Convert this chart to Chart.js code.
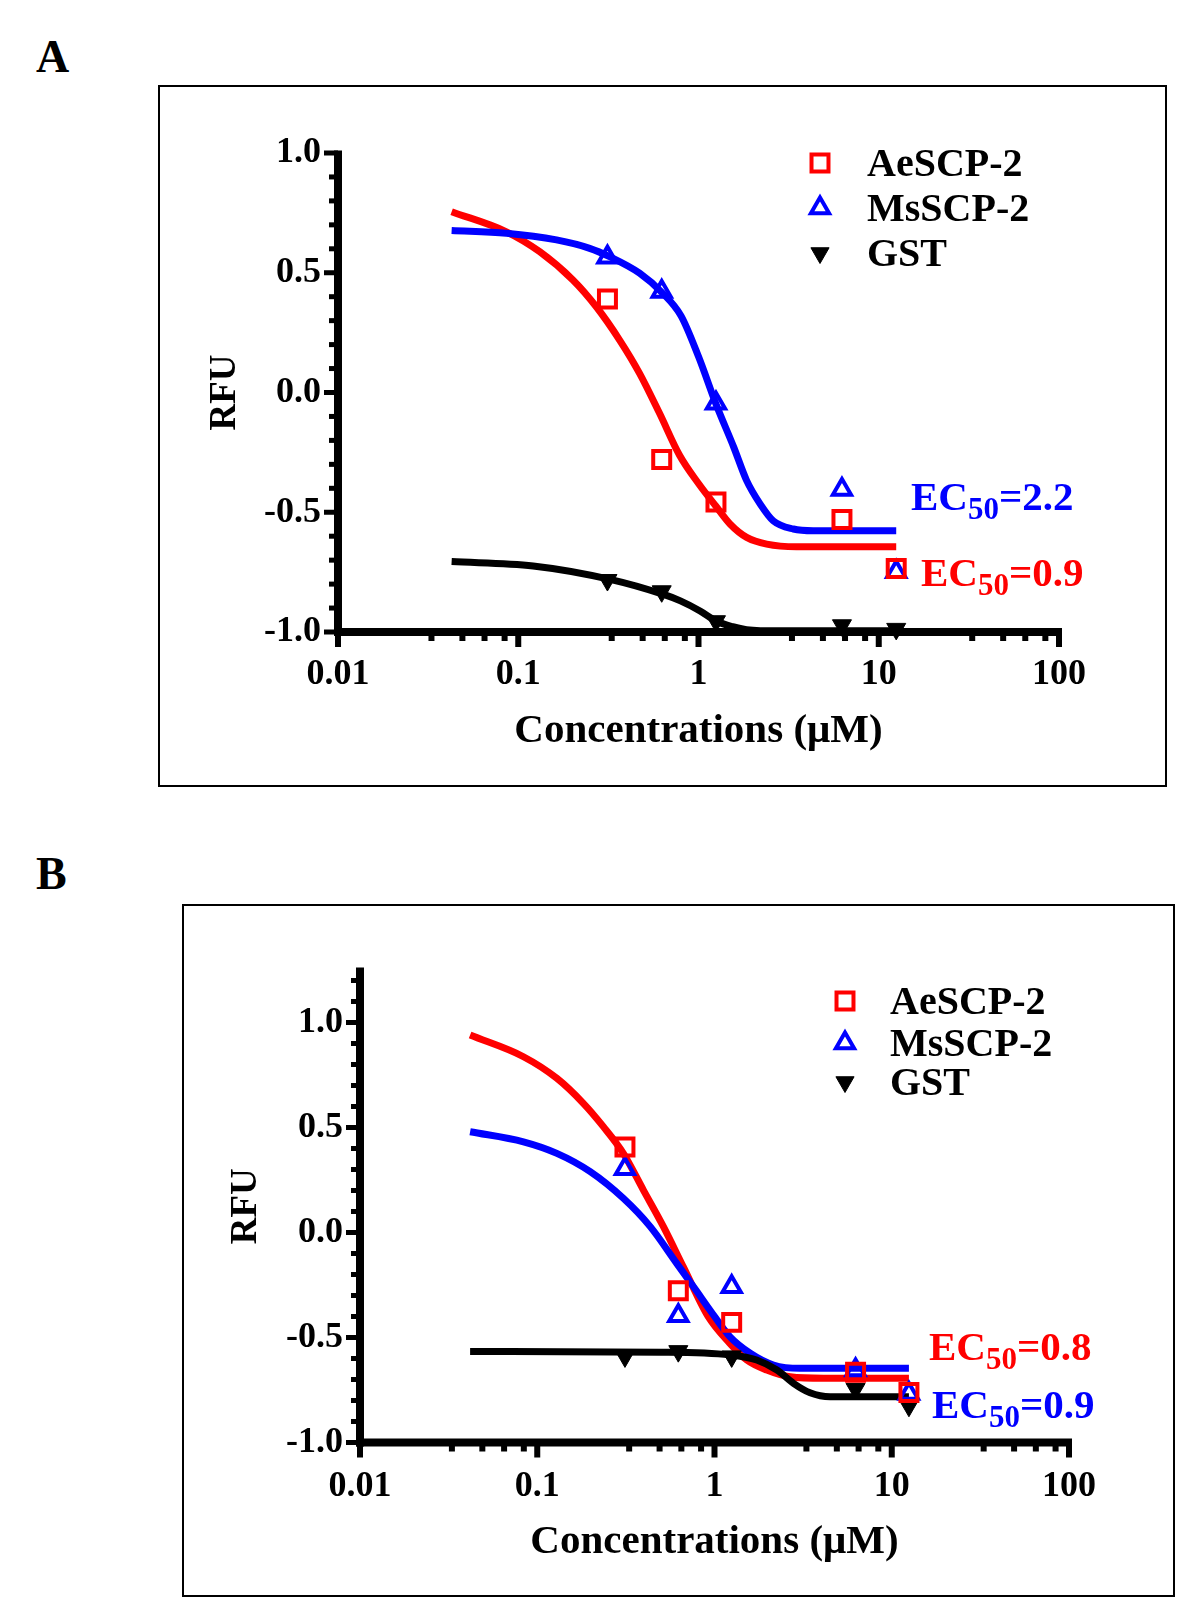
<!DOCTYPE html>
<html>
<head>
<meta charset="utf-8">
<script src="https://cdn.jsdelivr.net/npm/chart.js"></script>
<style>
  body { margin: 0; background: #fff; width: 1200px; height: 1618px; position: relative; overflow: hidden; font-family: "Liberation Serif", "Times New Roman", serif; }
  .cadre { position: absolute; border: 2px solid #000; box-sizing: border-box; }
  canvas { position: absolute; }
  .lettre { position: absolute; font-weight: bold; font-size: 46px; line-height: 1; }
</style>
</head>
<body>
<div class="lettre" style="left:36px;top:34px">A</div>
<div class="lettre" style="left:36px;top:851px">B</div>
<div class="cadre" style="left:158px;top:85px;width:1009px;height:702px"></div>
<div class="cadre" style="left:182px;top:904px;width:993px;height:693px"></div>
<canvas id="graphA" width="1009" height="702" style="left:158px;top:85px"></canvas>
<canvas id="graphB" width="993" height="693" style="left:182px;top:904px"></canvas>
<script>
/* Données */
var concentrations = [0.3125, 0.625, 1.25, 6.25, 12.5];
var noms = ['AeSCP-2', 'MsSCP-2', 'GST'];

var xTickValues = [0.01, 0.1, 1, 10, 100];
var xTickLabels = ['0.01', '0.1', '1', '10', '100'];
var xMinorFactors = [3.3, 4.9, 6.5, 8.4];
var yTickValues = [-1, -0.5, 0, 0.5, 1];
var yTickLabels = ['-1.0', '-0.5', '0.0', '0.5', '1.0'];
var yMinorA = [-0.9, -0.8, -0.7, -0.6, -0.4, -0.3, -0.2, -0.1, 0.1, 0.2, 0.3, 0.4, 0.6, 0.7, 0.8, 0.9];
var yMinorB = [-0.9, -0.8, -0.7, -0.6, -0.4, -0.3, -0.2, -0.1, 0.1, 0.2, 0.3, 0.4, 0.6, 0.7, 0.8, 0.9, 1.1, 1.2];

// Panneau A : mesures
var aeA = [0.39, -0.28, -0.457, -0.53, -0.735];
var msA = [0.565, 0.422, -0.045, -0.405, -0.748];
var gstA = [-0.783, -0.83, -0.955, -0.972, -0.987];
var ec50A = ['0.9', '2.2'];

// Panneau A : courbes ajustées
var aeAxCourbe = [0.0427, 0.086, 0.1315, 0.201, 0.271, 0.365, 0.471, 0.608, 0.785, 1.0, 1.25, 1.5, 1.85, 2.39, 3.5, 12.5];
var aeAyCourbe = [0.755, 0.671, 0.588, 0.47, 0.358, 0.219, 0.08, -0.087, -0.262, -0.38, -0.475, -0.55, -0.605, -0.633, -0.644, -0.644];
var msAxCourbe = [0.0427, 0.086, 0.163, 0.249, 0.321, 0.471, 0.634, 0.8, 1.0, 1.25, 1.57, 1.85, 2.2, 2.6, 3.36, 4.33, 12.5];
var msAyCourbe = [0.676, 0.665, 0.637, 0.602, 0.567, 0.498, 0.414, 0.32, 0.15, -0.048, -0.229, -0.368, -0.466, -0.536, -0.57, -0.577, -0.577];
var gstAxCourbe = [0.0427, 0.121, 0.323, 0.64, 0.794, 1.02, 1.25, 1.55, 1.85, 2.8, 12.5];
var gstAyCourbe = [-0.706, -0.724, -0.78, -0.843, -0.87, -0.912, -0.954, -0.978, -0.99, -0.995, -0.995];

// Panneau B : mesures
var aeB = [0.407, -0.277, -0.428, -0.665, -0.762];
var msB = [0.303, -0.396, -0.258, -0.655, -0.767];
var gstB = [-0.59, -0.565, -0.59, -0.745, -0.825];
var ec50B = ['0.8', '0.9'];

// Panneau B : courbes ajustées
var aeBxCourbe = [0.0418, 0.0836, 0.129, 0.182, 0.236, 0.306, 0.397, 0.515, 0.668, 0.92, 1.22, 1.52, 1.97, 2.67, 4.12, 12.5];
var aeByCourbe = [0.94, 0.837, 0.734, 0.615, 0.504, 0.377, 0.202, 0.028, -0.165, -0.4, -0.528, -0.607, -0.655, -0.687, -0.694, -0.694];
var msBxCourbe = [0.0418, 0.0836, 0.129, 0.199, 0.306, 0.434, 0.612, 0.794, 0.944, 1.22, 1.59, 2.15, 3.04, 12.5];
var msByCourbe = [0.48, 0.432, 0.377, 0.29, 0.163, 0.028, -0.147, -0.28, -0.37, -0.496, -0.575, -0.631, -0.647, -0.647];
var gstBxCourbe = [0.0418, 0.5, 1.22, 1.73, 2.25, 2.79, 3.46, 4.49, 12.5];
var gstByCourbe = [-0.567, -0.57, -0.583, -0.607, -0.655, -0.718, -0.763, -0.782, -0.782];

var ROUGE = '#ff0000';
var BLEU = '#0000ff';
var NOIR = '#000000';
var POLICE = '"Liberation Serif", "Times New Roman", serif';

function points(xs, ys) {
    return xs.map(function (x, i) { return { x: x, y: ys[i] }; });
}

/* Dessin d'un symbole (carré, triangle) comme Chart.js */
function dessinerSymbole(ctx, style, r, rotation, x, y, fond, trait, epaisseur) {
    ctx.save();
    ctx.fillStyle = fond;
    ctx.strokeStyle = trait;
    ctx.lineWidth = epaisseur;
    ctx.beginPath();
    if (style === 'rect') {
        var s = r * Math.SQRT1_2;
        ctx.rect(x - s, y - s, 2 * s, 2 * s);
    } else {
        var rad = rotation * Math.PI / 180;
        ctx.moveTo(x + Math.sin(rad) * r, y - Math.cos(rad) * r);
        rad += 2 * Math.PI / 3;
        ctx.lineTo(x + Math.sin(rad) * r, y - Math.cos(rad) * r);
        rad += 2 * Math.PI / 3;
        ctx.lineTo(x + Math.sin(rad) * r, y - Math.cos(rad) * r);
        ctx.closePath();
    }
    ctx.fill();
    if (epaisseur > 0) ctx.stroke();
    ctx.restore();
}

/* Plugin : axes façon Prism, légende et étiquettes EC50 */
var decorPrism = {
    id: 'decorPrism',
    beforeDatasetsDraw: function (chart, args, opts) {
        var ctx = chart.ctx;
        var sx = chart.scales.x, sy = chart.scales.y;
        var gauche = sx.left, droite = sx.right, bas = sy.bottom, haut = sy.top;
        var ep = 8;
        ctx.save();
        ctx.fillStyle = NOIR;
        // lignes des axes
        ctx.fillRect(gauche - ep / 2, haut - 2.5, ep, bas - haut + ep / 2 + 2.5);
        ctx.fillRect(gauche - ep / 2, bas - ep / 2, droite - gauche + ep / 2 + 3, ep);
        // graduations Y
        yTickValues.forEach(function (v) {
            var py = sy.getPixelForValue(v);
            ctx.fillRect(gauche - ep / 2 - 10, py - 2.5, 10 + ep / 2, 5);
        });
        opts.yMinor.forEach(function (v) {
            var py = sy.getPixelForValue(v);
            ctx.fillRect(gauche - ep / 2 - 5, py - 2.5, 5 + ep / 2, 5);
        });
        // graduations X (log)
        xTickValues.forEach(function (v, i) {
            var px = sx.getPixelForValue(v);
            ctx.fillRect(px - 3, bas, 6, ep / 2 + 11);
            if (i < xTickValues.length - 1) {
                xMinorFactors.forEach(function (f) {
                    var pm = sx.getPixelForValue(v * f);
                    ctx.fillRect(pm - 3, bas, 6, ep / 2 + 5);
                });
            }
        });
        ctx.restore();
    },
    afterDraw: function (chart, args, opts) {
        var ctx = chart.ctx;
        ctx.save();
        // légende
        var leg = opts.legende;
        for (var i = 0; i < 3; i++) {
            var ds = chart.data.datasets[i];
            var r = ds.legendRadius || ds.pointRadius;
            dessinerSymbole(ctx, ds.pointStyle, r, ds.pointRotation || 0, leg.x, leg.y[i], ds.backgroundColor, ds.borderColor, ds.pointBorderWidth);
            ctx.fillStyle = NOIR;
            ctx.font = 'bold 40px ' + POLICE;
            ctx.textBaseline = 'alphabetic';
            ctx.fillText(ds.label, leg.tx, leg.y[i] + 13);
        }
        // étiquettes EC50
        opts.ec50.forEach(function (e) {
            var x = e.x;
            ctx.fillStyle = e.couleur;
            ctx.font = 'bold 41px ' + POLICE;
            ctx.fillText('EC', x, e.y);
            x += ctx.measureText('EC').width;
            ctx.font = 'bold 31px ' + POLICE;
            ctx.fillText('50', x, e.y + 9);
            x += ctx.measureText('50').width;
            ctx.font = 'bold 41px ' + POLICE;
            ctx.fillText('=' + e.valeur, x, e.y);
        });
        ctx.restore();
    }
};

/* Fonction pour créer un panneau dose-réponse */
function graphiqueDoseReponse(Id, cfg) {
    var ctx = document.getElementById(Id).getContext('2d');

    var datasets = [{
        label: noms[0],
        data: points(concentrations, cfg.ae),
        pointStyle: 'rect', pointRadius: 12, pointBorderWidth: 4,
        borderColor: ROUGE, backgroundColor: 'rgba(0,0,0,0)', showLine: false, clip: false
    }, {
        label: noms[1],
        data: points(concentrations, cfg.ms),
        pointStyle: 'triangle', pointRadius: 10.5, pointBorderWidth: 4,
        borderColor: BLEU, backgroundColor: 'rgba(0,0,0,0)', showLine: false, clip: false
    }, {
        label: noms[2],
        data: points(concentrations, cfg.gst),
        pointStyle: 'triangle', pointRotation: 180, pointRadius: 11, legendRadius: 10.5, pointBorderWidth: 1,
        borderColor: NOIR, backgroundColor: NOIR, showLine: false, clip: false
    }, {
        label: 'courbe GST', data: cfg.courbeGst,
        showLine: true, pointRadius: 0, borderWidth: 7, borderColor: NOIR, cubicInterpolationMode: 'monotone', clip: false
    }, {
        label: 'courbe MsSCP-2', data: cfg.courbeMs,
        showLine: true, pointRadius: 0, borderWidth: 7, borderColor: BLEU, cubicInterpolationMode: 'monotone', clip: false
    }, {
        label: 'courbe AeSCP-2', data: cfg.courbeAe,
        showLine: true, pointRadius: 0, borderWidth: 7, borderColor: ROUGE, cubicInterpolationMode: 'monotone', clip: false
    }];

    var fontTick = { family: POLICE, size: 36, weight: 'bold' };

    return new Chart(ctx, {
        type: 'scatter',
        data: { datasets: datasets },
        plugins: [decorPrism],
        options: {
            responsive: false,
            animation: false,
            events: [],
            layout: { padding: { left: 0, top: cfg.haut, right: cfg.droite, bottom: 0 } },
            plugins: {
                legend: { display: false },
                tooltip: { enabled: false },
                decorPrism: { yMinor: cfg.yMinor, legende: cfg.legende, ec50: cfg.ec50 }
            },
            scales: {
                x: {
                    type: 'logarithmic', min: 0.01, max: 100,
                    afterFit: function (s) { s.height = cfg.hauteurX; },
                    afterBuildTicks: function (s) { s.ticks = xTickValues.map(function (v) { return { value: v }; }); },
                    ticks: {
                        color: NOIR, font: fontTick, padding: cfg.padX, maxRotation: 0, autoSkip: false,
                        callback: function (v, i) { return xTickLabels[i]; }
                    },
                    grid: { display: false, drawTicks: false },
                    border: { display: false },
                    title: { display: true, text: 'Concentrations (μM)', color: NOIR, font: { family: POLICE, size: 41, weight: 'bold' }, padding: { top: 0, bottom: cfg.titreX } }
                },
                y: {
                    min: -1, max: cfg.yMax,
                    afterFit: function (s) { s.width = cfg.largeurY; },
                    afterBuildTicks: function (s) { s.ticks = yTickValues.map(function (v) { return { value: v }; }); },
                    ticks: {
                        color: NOIR, font: fontTick, padding: 17,
                        callback: function (v, i) { return yTickLabels[i]; }
                    },
                    grid: { display: false, drawTicks: false },
                    border: { display: false },
                    title: { display: true, text: 'RFU', color: NOIR, font: { family: POLICE, size: 37, weight: 'bold' }, padding: { top: cfg.titreY, bottom: 0 } }
                }
            }
        }
    });
}

graphiqueDoseReponse('graphA', {
    ae: aeA, ms: msA, gst: gstA,
    courbeAe: points(aeAxCourbe, aeAyCourbe),
    courbeMs: points(msAxCourbe, msAyCourbe),
    courbeGst: points(gstAxCourbe, gstAyCourbe),
    yMax: 1, yMinor: yMinorA,
    haut: 68, droite: 108, hauteurX: 155, largeurY: 180,
    padX: 21, titreX: 31, titreY: 45,
    legende: { x: 662, tx: 709, y: [78, 123, 168] },
    ec50: [
        { x: 753, y: 425, couleur: BLEU, valeur: ec50A[1] },
        { x: 763, y: 501, couleur: ROUGE, valeur: ec50A[0] }
    ]
});

graphiqueDoseReponse('graphB', {
    ae: aeB, ms: msB, gst: gstB,
    courbeAe: points(aeBxCourbe, aeByCourbe),
    courbeMs: points(msBxCourbe, msByCourbe),
    courbeGst: points(gstBxCourbe, gstByCourbe),
    yMax: 1.25, yMinor: yMinorB,
    haut: 66, droite: 106, hauteurX: 154.5, largeurY: 178,
    padX: 23, titreX: 30, titreY: 42,
    legende: { x: 663, tx: 708, y: [97, 139, 178] },
    ec50: [
        { x: 747, y: 456, couleur: ROUGE, valeur: ec50B[0] },
        { x: 750, y: 514, couleur: BLEU, valeur: ec50B[1] }
    ]
});
</script>
</body>
</html>
